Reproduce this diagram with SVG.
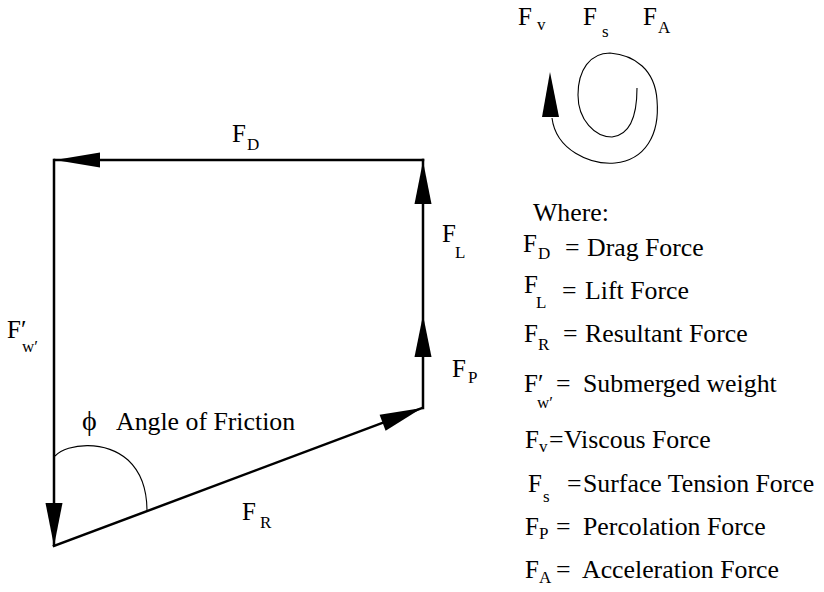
<svg xmlns="http://www.w3.org/2000/svg" width="824" height="592" viewBox="0 0 824 592">
<style>
.m{font-size:25px}
.w{font-size:25.8px}
.s{font-size:17px}
.ln{stroke:#000;stroke-width:2.5;fill:none;stroke-linecap:square}
.thin{stroke:#000;stroke-width:1.1;fill:none}
.ah{fill:#000}
</style>
<rect width="824" height="592" fill="#fff"/>
<g id="connectors">
<line class="ln" x1="55" y1="160" x2="423" y2="160"/>
<line class="ln" x1="423" y1="160" x2="423" y2="408"/>
<line class="ln" x1="54" y1="160" x2="54" y2="545"/>
<line class="ln" x1="54" y1="546" x2="422" y2="408"/>
<polygon class="ah" points="55,160 100,152.5 100,167.5"/>
<polygon class="ah" points="423,161 414.5,204 431.5,204"/>
<polygon class="ah" points="423,315 414.5,357 431.5,357"/>
<polygon class="ah" points="54,546 45.5,503 62.5,503"/>
<polygon class="ah" points="422,408 379.6,414.7 385.6,430.7"/>
<path class="thin" d="M55,456 C68,443 105,440 128,460 C142,473 147,490 147,511"/>
<path class="thin" d="M552,118 C556,150 590,165 615,163 C645,160 660,135 657,100 C655,70 635,55 610,53 C590,53 578,70 578,95 C578,120 595,137 612,137 C630,135 637,115 637,88"/>
<polygon class="ah" points="550,72 542,117 559,117"/>
</g>
<g font-family="Liberation Serif, Tinos, Times New Roman, DejaVu Serif, serif" fill="#000">
<g id="label-FD"><text class="m" x="232" y="142">F</text><text class="s" x="247" y="150">D</text></g>
<g id="label-FL"><text class="m" x="442" y="242">F</text><text class="s" x="455" y="258">L</text></g>
<g id="label-FP"><text class="m" x="452" y="377">F</text><text class="s" x="468" y="383">P</text></g>
<g id="label-FR"><text class="m" x="242" y="520">F</text><text class="s" x="260" y="528">R</text></g>
<g id="label-Fw"><text class="m" x="7" y="338">F′</text><text class="s" x="22" y="352">w′</text></g>
<g id="label-phi"><text x="82" y="430" style="font-size:28px">ϕ</text><text class="w" x="116" y="430">Angle of Friction</text></g>
<g id="top-forces">
<text class="m" x="518" y="25">F</text><text class="s" x="537" y="30">v</text>
<text class="m" x="583" y="25">F</text><text class="s" x="602" y="37">s</text>
<text class="m" x="643" y="25">F</text><text class="s" x="658" y="33">A</text>
</g>
<g id="legend">
<text class="w" x="533" y="221">Where:</text>
<text class="m" x="523" y="252">F</text><text class="s" x="538" y="259">D</text><text class="w" x="565" y="256">=</text><text class="w" x="587" y="256">Drag Force</text>
<text class="m" x="524" y="293">F</text><text class="s" x="536" y="308">L</text><text class="w" x="562" y="299">=</text><text class="w" x="585" y="299">Lift Force</text>
<text class="m" x="524" y="342">F</text><text class="s" x="538" y="350">R</text><text class="w" x="563" y="342">=</text><text class="w" x="585" y="342">Resultant Force</text>
<text class="m" x="524" y="392">F′</text><text class="s" x="537" y="408">w′</text><text class="w" x="556" y="392">=</text><text class="w" x="583" y="392">Submerged weight</text>
<text class="m" x="525" y="448">F</text><text class="s" x="539" y="452">v</text><text class="w" x="549" y="448">=</text><text class="w" x="564" y="448">Viscous Force</text>
<text class="m" x="528" y="492">F</text><text class="s" x="543" y="502">s</text><text class="w" x="567" y="492">=</text><text class="w" x="583" y="492">Surface Tension Force</text>
<text class="m" x="525" y="535">F</text><text class="s" x="539" y="539">P</text><text class="w" x="556" y="535">=</text><text class="w" x="583" y="535">Percolation Force</text>
<text class="m" x="525" y="578">F</text><text class="s" x="539" y="583">A</text><text class="w" x="556" y="578">=</text><text class="w" x="582" y="578">Acceleration Force</text>
</g>
</g>
</svg>
